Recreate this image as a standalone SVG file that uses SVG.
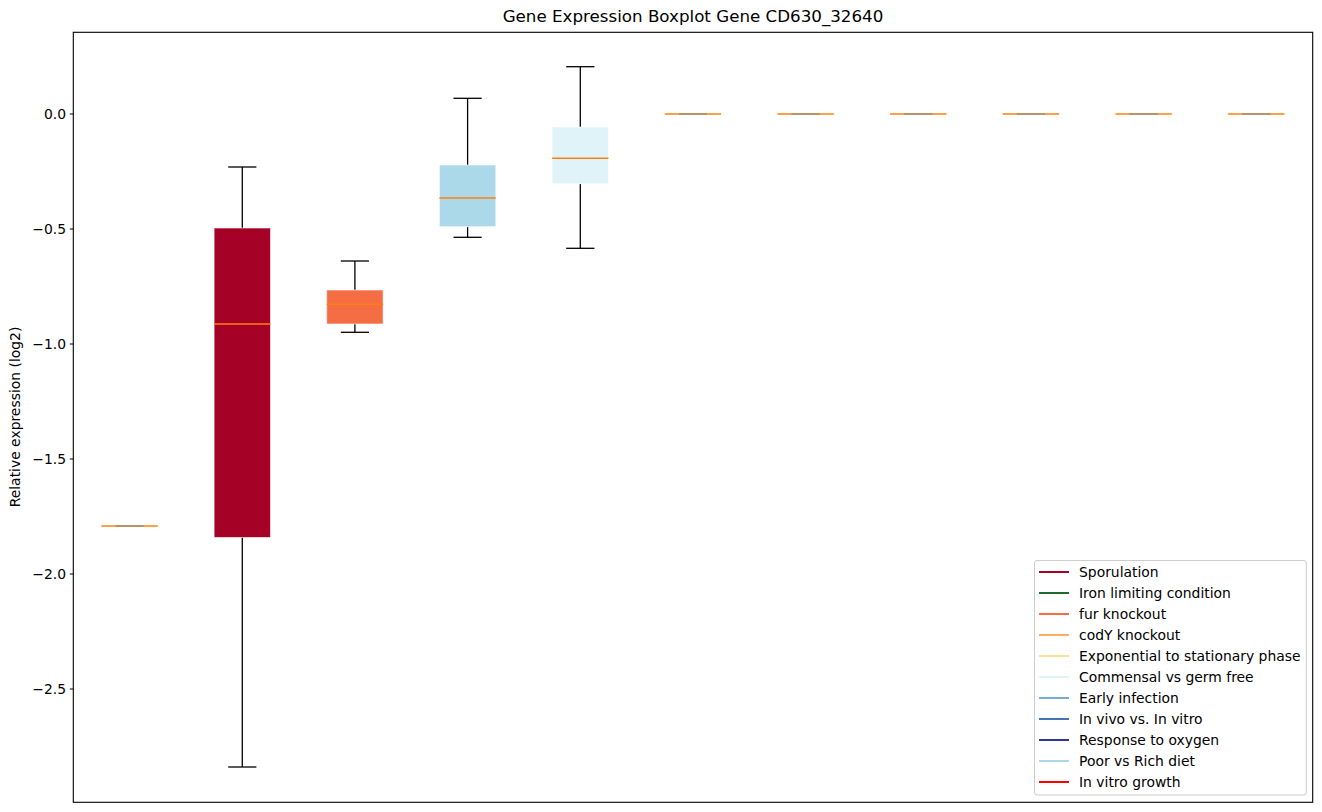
<svg xmlns="http://www.w3.org/2000/svg" width="1322" height="812" viewBox="0 0 1322 812">
<style>
text{font-family:"DejaVu Sans","Liberation Sans",sans-serif;fill:#000}
.tick{font-size:13.9px;text-anchor:end}
.leg{font-size:13.9px}
.wh{stroke:#000;stroke-width:1.3;fill:none}
.med{stroke:#ff7f0e;stroke-width:1.4}
.box{stroke:#fff;stroke-opacity:0.6;stroke-width:1}
.deg{stroke:#ff7f0e;stroke-width:1.6}
.degc{stroke:#a59070;stroke-width:1.6}
</style>
<rect width="1322" height="812" fill="#fff"/>
<text x="693" y="22" font-size="16.7" text-anchor="middle">Gene Expression Boxplot Gene CD630_32640</text>
<g id="axes">
<rect x="73.3" y="32.3" width="1239.4" height="770" fill="none" stroke="#000" stroke-width="1.1"/>
<g stroke="#000" stroke-width="1">
<line x1="69.8" y1="114" x2="73.3" y2="114"/>
<line x1="69.8" y1="229" x2="73.3" y2="229"/>
<line x1="69.8" y1="344" x2="73.3" y2="344"/>
<line x1="69.8" y1="459" x2="73.3" y2="459"/>
<line x1="69.8" y1="574" x2="73.3" y2="574"/>
<line x1="69.8" y1="689" x2="73.3" y2="689"/>
</g>
<text class="tick" x="66" y="118.9">0.0</text>
<text class="tick" x="66" y="233.9">−0.5</text>
<text class="tick" x="66" y="348.9">−1.0</text>
<text class="tick" x="66" y="463.9">−1.5</text>
<text class="tick" x="66" y="578.9">−2.0</text>
<text class="tick" x="66" y="693.9">−2.5</text>
<text x="20" y="417" font-size="13.9" text-anchor="middle" transform="rotate(-90 20 417)">Relative expression (log2)</text>
</g>
<g id="box1">
<line class="deg" x1="101.4" y1="526" x2="157.8" y2="526"/>
<line class="degc" x1="115.5" y1="526" x2="143.7" y2="526"/>
</g>
<g id="box2">
<line class="wh" x1="242.3" y1="167" x2="242.3" y2="228"/>
<line class="wh" x1="242.3" y1="537" x2="242.3" y2="767"/>
<line class="wh" x1="228.2" y1="167" x2="256.4" y2="167"/>
<line class="wh" x1="228.2" y1="767" x2="256.4" y2="767"/>
<rect class="box" x="214.1" y="228" width="56.4" height="309.5" fill="#a50026"/>
<line class="med" x1="214.1" y1="324" x2="270.5" y2="324"/>
</g>
<g id="box3">
<line class="wh" x1="354.9" y1="261" x2="354.9" y2="290"/>
<line class="wh" x1="354.9" y1="324" x2="354.9" y2="332.3"/>
<line class="wh" x1="340.8" y1="261" x2="369" y2="261"/>
<line class="wh" x1="340.8" y1="332.3" x2="369" y2="332.3"/>
<rect class="box" x="326.7" y="290" width="56.4" height="34" fill="#f46d43"/>
<line class="med" x1="326.7" y1="304.3" x2="383.1" y2="304.3"/>
</g>
<g id="box4">
<line class="wh" x1="467.6" y1="98.3" x2="467.6" y2="165"/>
<line class="wh" x1="467.6" y1="226.7" x2="467.6" y2="237.3"/>
<line class="wh" x1="453.5" y1="98.3" x2="481.7" y2="98.3"/>
<line class="wh" x1="453.5" y1="237.3" x2="481.7" y2="237.3"/>
<rect class="box" x="439.4" y="165" width="56.4" height="61.7" fill="#abd9e9"/>
<line class="med" x1="439.4" y1="198" x2="495.8" y2="198"/>
</g>
<g id="box5">
<line class="wh" x1="580.3" y1="66.7" x2="580.3" y2="127"/>
<line class="wh" x1="580.3" y1="183.7" x2="580.3" y2="248.3"/>
<line class="wh" x1="566.2" y1="66.7" x2="594.4" y2="66.7"/>
<line class="wh" x1="566.2" y1="248.3" x2="594.4" y2="248.3"/>
<rect class="box" x="552.1" y="127" width="56.4" height="56.7" fill="#e0f3f8"/>
<line class="med" x1="552.1" y1="158.3" x2="608.5" y2="158.3"/>
</g>
<g id="box6"><line class="deg" x1="664.7" y1="114" x2="721.1" y2="114"/><line class="degc" x1="678.8" y1="114" x2="707" y2="114"/></g>
<g id="box7"><line class="deg" x1="777.4" y1="114" x2="833.8" y2="114"/><line class="degc" x1="791.5" y1="114" x2="819.7" y2="114"/></g>
<g id="box8"><line class="deg" x1="890.1" y1="114" x2="946.5" y2="114"/><line class="degc" x1="904.2" y1="114" x2="932.4" y2="114"/></g>
<g id="box9"><line class="deg" x1="1002.7" y1="114" x2="1059.1" y2="114"/><line class="degc" x1="1016.8" y1="114" x2="1045" y2="114"/></g>
<g id="box10"><line class="deg" x1="1115.4" y1="114" x2="1171.8" y2="114"/><line class="degc" x1="1129.5" y1="114" x2="1157.7" y2="114"/></g>
<g id="box11"><line class="deg" x1="1228.1" y1="114" x2="1284.5" y2="114"/><line class="degc" x1="1242.2" y1="114" x2="1270.4" y2="114"/></g>
<g id="legend">
<rect x="1034.5" y="560.5" width="271.8" height="234.5" rx="2.5" fill="#fff" fill-opacity="0.8" stroke="#ccc" stroke-width="1"/>
<g stroke-width="2">
<line x1="1039" y1="572" x2="1069" y2="572" stroke="#a50026"/>
<line x1="1039" y1="593" x2="1069" y2="593" stroke="#1a6b2d"/>
<line x1="1039" y1="614" x2="1069" y2="614" stroke="#f46d43"/>
<line x1="1039" y1="635" x2="1069" y2="635" stroke="#fdae61"/>
<line x1="1039" y1="656" x2="1069" y2="656" stroke="#fee090"/>
<line x1="1039" y1="677" x2="1069" y2="677" stroke="#e0f3f8"/>
<line x1="1039" y1="698" x2="1069" y2="698" stroke="#74add1"/>
<line x1="1039" y1="719" x2="1069" y2="719" stroke="#4575b4"/>
<line x1="1039" y1="740" x2="1069" y2="740" stroke="#313695"/>
<line x1="1039" y1="761" x2="1069" y2="761" stroke="#abd9e9"/>
<line x1="1039" y1="782" x2="1069" y2="782" stroke="#ff0000"/>
</g>
<text class="leg" x="1079" y="577">Sporulation</text>
<text class="leg" x="1079" y="598">Iron limiting condition</text>
<text class="leg" x="1079" y="619">fur knockout</text>
<text class="leg" x="1079" y="640">codY knockout</text>
<text class="leg" x="1079" y="661">Exponential to stationary phase</text>
<text class="leg" x="1079" y="682">Commensal vs germ free</text>
<text class="leg" x="1079" y="703">Early infection</text>
<text class="leg" x="1079" y="724">In vivo vs. In vitro</text>
<text class="leg" x="1079" y="745">Response to oxygen</text>
<text class="leg" x="1079" y="766">Poor vs Rich diet</text>
<text class="leg" x="1079" y="787">In vitro growth</text>
</g>
</svg>
